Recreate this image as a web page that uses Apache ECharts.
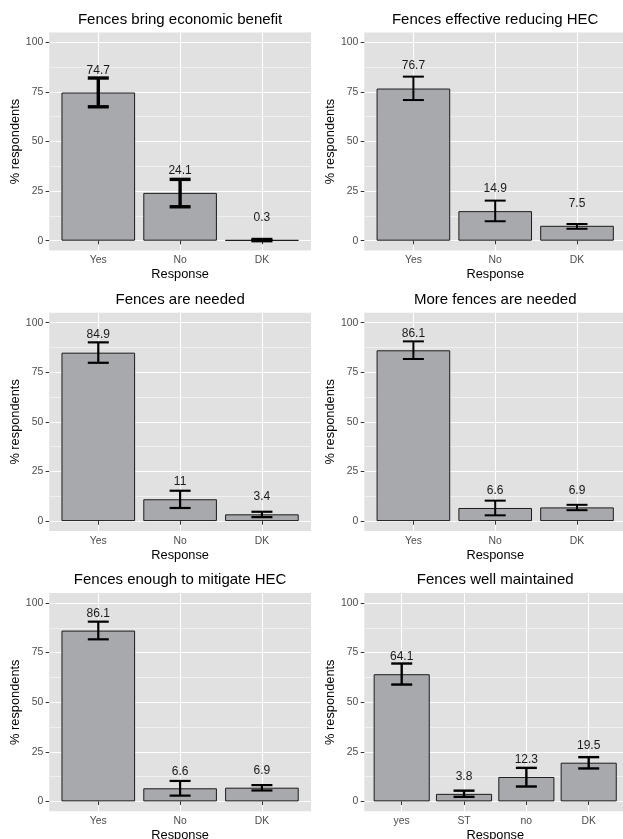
<!doctype html>
<html>
<head>
    <meta charset="utf-8">
    <title>Fences survey</title>
    <script src="https://cdn.jsdelivr.net/npm/echarts@6/dist/echarts.min.js"></script>
    <style>
        html, body { margin: 0; padding: 0; background: #fff; }
        #chart { width: 623px; height: 839px; }
    </style>
</head>
<body>
<div id="chart"></div>
<script type="text/javascript">
    // data
    var panelTitles = ['Fences bring economic benefit', 'Fences effective reducing HEC', 'Fences are needed',
        'More fences are needed', 'Fences enough to mitigate HEC', 'Fences well maintained'];
    var responses = [
        ['Yes', 'No', 'DK'], ['Yes', 'No', 'DK'], ['Yes', 'No', 'DK'],
        ['Yes', 'No', 'DK'], ['Yes', 'No', 'DK'], ['yes', 'ST', 'no', 'DK']
    ];
    var pct = [
        [74.7, 24.1, 0.3], [76.7, 14.9, 7.5], [84.9, 11, 3.4],
        [86.1, 6.6, 6.9], [86.1, 6.6, 6.9], [64.1, 3.8, 12.3, 19.5]
    ];
    var ciLow = [
        [67.5, 17.1, 0], [70.9, 9.8, 6.0], [79.8, 6.6, 2.0],
        [81.7, 2.9, 5.5], [81.7, 2.9, 5.5], [58.9, 2.3, 7.5, 16.6]
    ];
    var ciHigh = [
        [82.0, 30.9, 0.6], [82.7, 20.2, 8.4], [90.1, 15.3, 4.7],
        [90.6, 10.3, 8.2], [90.6, 10.3, 8.2], [69.5, 5.4, 16.9, 22.3]
    ];
    var yTicks = [0, 25, 50, 75, 100];
    var yMinor = [12.5, 37.5, 62.5, 87.5];

    // layout
    var font = 'Liberation Sans, Arial, Helvetica, sans-serif';
    var colLeft = [49.2, 364.3];
    var rowTop = [32.4, 312.8, 593.1];
    var panelW = 261.8, panelH = 218.2;
    var errWidth = [3.4, 2, 2.2, 2, 2.2, 2.4];
    var labelGap = [16, 16.5, 11.5, 11, 11, 11.5];

    var myChart = echarts.init(document.getElementById('chart'), null, { renderer: 'canvas' });

    var grid = [], xAxis = [], yAxis = [], series = [], title = [];

    panelTitles.forEach(function (t, i) {
        var left = colLeft[i % 2], top = rowTop[Math.floor(i / 2)];
        var n = responses[i].length;
        var xs = responses[i].map(function (c, k) { return k + 1; });
        var band = panelW / (n + 0.2);

        grid.push({
            left: left, top: top, width: panelW, height: panelH,
            show: true, backgroundColor: '#e1e1e2', borderWidth: 0,
            containLabel: false, outerBoundsMode: 'none'
        });
        title.push({
            text: t, left: left + panelW / 2, top: top - 20.5, textAlign: 'center', padding: 0,
            textStyle: { fontFamily: font, fontSize: 15, fontWeight: 'normal', color: '#000' }
        });
        xAxis.push({
            gridIndex: i, type: 'value', min: 0.4, max: n + 0.6,
            axisLine: { show: false },
            axisTick: { show: true, length: 3.6, customValues: xs, lineStyle: { color: '#333', width: 1 } },
            axisLabel: {
                customValues: xs, margin: 5, fontFamily: font, fontSize: 10.4, color: '#4d4d4d',
                formatter: function (v) { return responses[i][Math.round(v) - 1]; }
            },
            splitLine: { show: true, lineStyle: { color: '#fff', width: 1.1 } },
            name: 'Response', nameLocation: 'middle', nameGap: 17.5,
            nameTextStyle: { fontFamily: font, fontSize: 12.8, color: '#000' }
        });
        // minor grid lines
        yAxis.push({
            gridIndex: i, type: 'value', min: -5, max: 105, position: 'left',
            axisLine: { show: false }, axisLabel: { show: false },
            axisTick: { show: false, customValues: yMinor },
            splitLine: { show: true, lineStyle: { color: '#fff', width: 0.5 } }
        });
        yAxis.push({
            gridIndex: i, type: 'value', min: -5, max: 105, position: 'left',
            axisLine: { show: false },
            axisTick: { show: true, length: 3.6, customValues: yTicks, lineStyle: { color: '#333', width: 1 } },
            axisLabel: { customValues: yTicks, margin: 6, fontFamily: font, fontSize: 10.4, color: '#4d4d4d' },
            splitLine: { show: true, lineStyle: { color: '#fff', width: 1.1 } },
            name: '% respondents', nameLocation: 'middle', nameRotate: 90, nameGap: 22.5,
            nameTextStyle: { fontFamily: font, fontSize: 12.8, color: '#000' }
        });

        series.push({
            type: 'bar', xAxisIndex: i, yAxisIndex: 2 * i + 1,
            barWidth: band * 0.9,
            data: pct[i].map(function (v, k) { return [k + 1, v]; }),
            itemStyle: { color: '#a8a9ac', borderColor: '#1c1c1c', borderWidth: 1 },
            label: {
                show: true, position: 'top', distance: labelGap[i],
                fontFamily: font, fontSize: 12, color: '#1a1a1a',
                formatter: function (p) { return p.value[1]; }
            },
            emphasis: { disabled: true },
            z: 2
        });
        series.push({
            type: 'custom', xAxisIndex: i, yAxisIndex: 2 * i + 1,
            data: ciLow[i].map(function (lo, k) { return [k + 1, lo, ciHigh[i][k]]; }),
            encode: { x: 0, y: [1, 2] },
            z: 3,
            renderItem: function (params, api) {
                var x = api.value(0);
                var a = api.coord([x, api.value(1)]);
                var b = api.coord([x, api.value(2)]);
                var half = 10.5;
                var st = { stroke: '#000', lineWidth: errWidth[i] };
                return {
                    type: 'group',
                    children: [
                        { type: 'line', shape: { x1: a[0], y1: a[1], x2: b[0], y2: b[1] }, style: st },
                        { type: 'line', shape: { x1: a[0] - half, y1: a[1], x2: a[0] + half, y2: a[1] }, style: st },
                        { type: 'line', shape: { x1: b[0] - half, y1: b[1], x2: b[0] + half, y2: b[1] }, style: st }
                    ]
                };
            }
        });
    });

    var option = {
        animation: false,
        backgroundColor: '#fff',
        title: title,
        grid: grid,
        xAxis: xAxis,
        yAxis: yAxis,
        series: series
    };
    myChart.setOption(option);
</script>
</body>
</html>
